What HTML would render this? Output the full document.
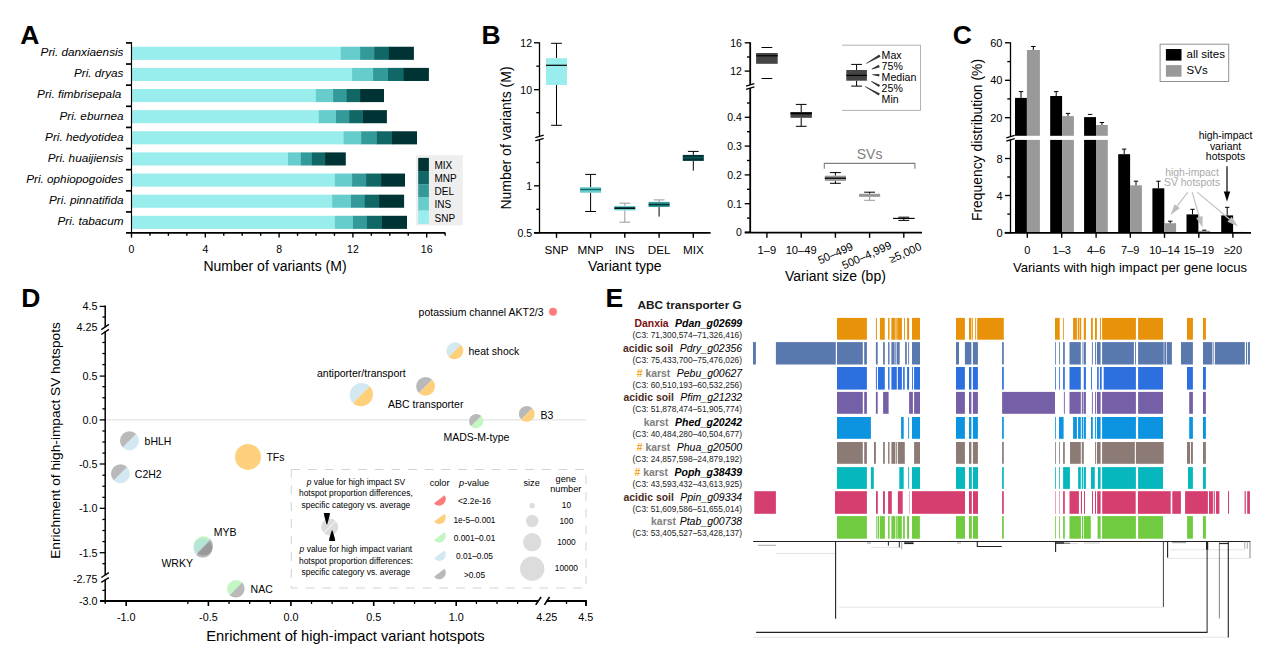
<!DOCTYPE html>
<html><head><meta charset="utf-8"><title>Figure</title>
<style>
html,body{margin:0;padding:0;background:#fff;}
svg{display:block;font-family:"Liberation Sans",sans-serif;}
</style></head>
<body>
<svg width="1268" height="672" viewBox="0 0 1268 672">
<rect x="0" y="0" width="1268" height="672" fill="#ffffff"/>
<text x="20.30" y="43.90" font-size="26.5" text-anchor="start" fill="#000" font-weight="bold" >A</text>
<rect x="132.10" y="46.75" width="209.10" height="13.10" fill="#99EDED" />
<rect x="340.70" y="46.75" width="19.90" height="13.10" fill="#66CCCC" />
<rect x="360.10" y="46.75" width="14.60" height="13.10" fill="#339999" />
<rect x="374.20" y="46.75" width="15.20" height="13.10" fill="#116666" />
<rect x="388.90" y="46.75" width="25.00" height="13.10" fill="#003333" />
<text x="123.50" y="56.23" font-size="11.75" text-anchor="end" fill="#000" font-style="italic" >Pri. danxiaensis</text>
<rect x="132.10" y="67.88" width="220.50" height="13.10" fill="#99EDED" />
<rect x="352.10" y="67.88" width="21.50" height="13.10" fill="#66CCCC" />
<rect x="373.10" y="67.88" width="15.40" height="13.10" fill="#339999" />
<rect x="388.00" y="67.88" width="16.20" height="13.10" fill="#116666" />
<rect x="403.70" y="67.88" width="25.20" height="13.10" fill="#003333" />
<text x="123.50" y="77.36" font-size="11.75" text-anchor="end" fill="#000" font-style="italic" >Pri. dryas</text>
<rect x="132.10" y="89.01" width="184.30" height="13.10" fill="#99EDED" />
<rect x="315.90" y="89.01" width="17.70" height="13.10" fill="#66CCCC" />
<rect x="333.10" y="89.01" width="14.10" height="13.10" fill="#339999" />
<rect x="346.70" y="89.01" width="13.90" height="13.10" fill="#116666" />
<rect x="360.10" y="89.01" width="23.90" height="13.10" fill="#003333" />
<text x="121.30" y="98.49" font-size="11.75" text-anchor="end" fill="#000" font-style="italic" >Pri. fimbrisepala</text>
<rect x="132.10" y="110.14" width="187.20" height="13.10" fill="#99EDED" />
<rect x="318.80" y="110.14" width="17.70" height="13.10" fill="#66CCCC" />
<rect x="336.00" y="110.14" width="13.70" height="13.10" fill="#339999" />
<rect x="349.20" y="110.14" width="14.30" height="13.10" fill="#116666" />
<rect x="363.00" y="110.14" width="23.90" height="13.10" fill="#003333" />
<text x="123.50" y="119.62" font-size="11.75" text-anchor="end" fill="#000" font-style="italic" >Pri. eburnea</text>
<rect x="132.10" y="131.27" width="212.00" height="13.10" fill="#99EDED" />
<rect x="343.60" y="131.27" width="18.10" height="13.10" fill="#66CCCC" />
<rect x="361.20" y="131.27" width="16.20" height="13.10" fill="#339999" />
<rect x="376.90" y="131.27" width="15.60" height="13.10" fill="#116666" />
<rect x="392.00" y="131.27" width="25.00" height="13.10" fill="#003333" />
<text x="123.50" y="140.75" font-size="11.75" text-anchor="end" fill="#000" font-style="italic" >Pri. hedyotidea</text>
<rect x="132.10" y="152.40" width="156.40" height="13.10" fill="#99EDED" />
<rect x="288.00" y="152.40" width="13.40" height="13.10" fill="#66CCCC" />
<rect x="300.90" y="152.40" width="11.50" height="13.10" fill="#339999" />
<rect x="311.90" y="152.40" width="13.70" height="13.10" fill="#116666" />
<rect x="325.10" y="152.40" width="20.70" height="13.10" fill="#003333" />
<text x="123.50" y="161.88" font-size="11.75" text-anchor="end" fill="#000" font-style="italic" >Pri. huaijiensis</text>
<rect x="132.10" y="173.53" width="203.30" height="13.10" fill="#99EDED" />
<rect x="334.90" y="173.53" width="17.70" height="13.10" fill="#66CCCC" />
<rect x="352.10" y="173.53" width="14.50" height="13.10" fill="#339999" />
<rect x="366.10" y="173.53" width="15.50" height="13.10" fill="#116666" />
<rect x="381.10" y="173.53" width="23.90" height="13.10" fill="#003333" />
<text x="123.50" y="183.01" font-size="11.75" text-anchor="end" fill="#000" font-style="italic" >Pri. ophiopogoides</text>
<rect x="132.10" y="194.66" width="200.60" height="13.10" fill="#99EDED" />
<rect x="332.20" y="194.66" width="19.30" height="13.10" fill="#66CCCC" />
<rect x="351.00" y="194.66" width="14.30" height="13.10" fill="#339999" />
<rect x="364.80" y="194.66" width="14.80" height="13.10" fill="#116666" />
<rect x="379.10" y="194.66" width="25.00" height="13.10" fill="#003333" />
<text x="123.50" y="204.14" font-size="11.75" text-anchor="end" fill="#000" font-style="italic" >Pri. pinnatifida</text>
<rect x="132.10" y="215.79" width="203.30" height="13.10" fill="#99EDED" />
<rect x="334.90" y="215.79" width="18.60" height="13.10" fill="#66CCCC" />
<rect x="353.00" y="215.79" width="14.50" height="13.10" fill="#339999" />
<rect x="367.00" y="215.79" width="15.50" height="13.10" fill="#116666" />
<rect x="382.00" y="215.79" width="25.00" height="13.10" fill="#003333" />
<text x="123.50" y="225.27" font-size="11.75" text-anchor="end" fill="#000" font-style="italic" >Pri. tabacum</text>
<line x1="131.50" y1="42.10" x2="131.50" y2="232.90" stroke="#000" stroke-width="1.15" />
<line x1="126.00" y1="232.80" x2="445.30" y2="232.80" stroke="#000" stroke-width="1.7" />
<line x1="126.00" y1="42.90" x2="131.50" y2="42.90" stroke="#000" stroke-width="1.7" />
<line x1="126.00" y1="64.03" x2="131.50" y2="64.03" stroke="#000" stroke-width="1.7" />
<line x1="126.00" y1="85.16" x2="131.50" y2="85.16" stroke="#000" stroke-width="1.7" />
<line x1="126.00" y1="106.29" x2="131.50" y2="106.29" stroke="#000" stroke-width="1.7" />
<line x1="126.00" y1="127.42" x2="131.50" y2="127.42" stroke="#000" stroke-width="1.7" />
<line x1="126.00" y1="148.55" x2="131.50" y2="148.55" stroke="#000" stroke-width="1.7" />
<line x1="126.00" y1="169.68" x2="131.50" y2="169.68" stroke="#000" stroke-width="1.7" />
<line x1="126.00" y1="190.81" x2="131.50" y2="190.81" stroke="#000" stroke-width="1.7" />
<line x1="126.00" y1="211.94" x2="131.50" y2="211.94" stroke="#000" stroke-width="1.7" />
<line x1="131.50" y1="232.80" x2="131.50" y2="237.60" stroke="#000" stroke-width="1.4" />
<text x="131.50" y="253.38" font-size="10.5" text-anchor="middle" fill="#000" >0</text>
<line x1="149.95" y1="232.80" x2="149.95" y2="235.80" stroke="#000" stroke-width="1.4" />
<line x1="168.40" y1="232.80" x2="168.40" y2="235.80" stroke="#000" stroke-width="1.4" />
<line x1="186.85" y1="232.80" x2="186.85" y2="235.80" stroke="#000" stroke-width="1.4" />
<line x1="205.30" y1="232.80" x2="205.30" y2="237.60" stroke="#000" stroke-width="1.4" />
<text x="205.30" y="253.38" font-size="10.5" text-anchor="middle" fill="#000" >4</text>
<line x1="223.75" y1="232.80" x2="223.75" y2="235.80" stroke="#000" stroke-width="1.4" />
<line x1="242.20" y1="232.80" x2="242.20" y2="235.80" stroke="#000" stroke-width="1.4" />
<line x1="260.65" y1="232.80" x2="260.65" y2="235.80" stroke="#000" stroke-width="1.4" />
<line x1="279.10" y1="232.80" x2="279.10" y2="237.60" stroke="#000" stroke-width="1.4" />
<text x="279.10" y="253.38" font-size="10.5" text-anchor="middle" fill="#000" >8</text>
<line x1="297.55" y1="232.80" x2="297.55" y2="235.80" stroke="#000" stroke-width="1.4" />
<line x1="316.00" y1="232.80" x2="316.00" y2="235.80" stroke="#000" stroke-width="1.4" />
<line x1="334.45" y1="232.80" x2="334.45" y2="235.80" stroke="#000" stroke-width="1.4" />
<line x1="352.90" y1="232.80" x2="352.90" y2="237.60" stroke="#000" stroke-width="1.4" />
<text x="352.90" y="253.38" font-size="10.5" text-anchor="middle" fill="#000" >12</text>
<line x1="371.35" y1="232.80" x2="371.35" y2="235.80" stroke="#000" stroke-width="1.4" />
<line x1="389.80" y1="232.80" x2="389.80" y2="235.80" stroke="#000" stroke-width="1.4" />
<line x1="408.25" y1="232.80" x2="408.25" y2="235.80" stroke="#000" stroke-width="1.4" />
<line x1="426.70" y1="232.80" x2="426.70" y2="237.60" stroke="#000" stroke-width="1.4" />
<text x="426.70" y="253.38" font-size="10.5" text-anchor="middle" fill="#000" >16</text>
<line x1="445.15" y1="232.80" x2="445.15" y2="235.80" stroke="#000" stroke-width="1.4" />
<text x="275.00" y="271.34" font-size="14" text-anchor="middle" fill="#000" >Number of variants (M)</text>
<rect x="415.90" y="155.20" width="46.90" height="70.10" fill="#EEEEEE" />
<rect x="418.20" y="157.90" width="10.70" height="13.27" fill="#003333" />
<text x="434.50" y="168.70" font-size="10" text-anchor="start" fill="#000" >MIX</text>
<rect x="418.20" y="171.07" width="10.70" height="13.27" fill="#116666" />
<text x="434.50" y="181.90" font-size="10" text-anchor="start" fill="#000" >MNP</text>
<rect x="418.20" y="184.24" width="10.70" height="13.27" fill="#339999" />
<text x="434.50" y="195.10" font-size="10" text-anchor="start" fill="#000" >DEL</text>
<rect x="418.20" y="197.41" width="10.70" height="13.27" fill="#66CCCC" />
<text x="434.50" y="208.30" font-size="10" text-anchor="start" fill="#000" >INS</text>
<rect x="418.20" y="210.58" width="10.70" height="13.27" fill="#99EDED" />
<text x="434.50" y="221.50" font-size="10" text-anchor="start" fill="#000" >SNP</text>
<text x="481.60" y="43.90" font-size="26.5" text-anchor="start" fill="#000" font-weight="bold" >B</text>
<line x1="539.50" y1="42.30" x2="539.50" y2="136.30" stroke="#000" stroke-width="1.3" />
<line x1="539.50" y1="139.30" x2="539.50" y2="233.30" stroke="#000" stroke-width="1.3" />
<line x1="535.30" y1="137.60" x2="543.70" y2="135.10" stroke="#000" stroke-width="1.3" />
<line x1="535.30" y1="140.90" x2="543.70" y2="138.40" stroke="#000" stroke-width="1.3" />
<line x1="533.90" y1="232.80" x2="710.60" y2="232.80" stroke="#000" stroke-width="1.7" />
<line x1="534.00" y1="42.80" x2="539.50" y2="42.80" stroke="#000" stroke-width="1.35" />
<text x="532.00" y="46.78" font-size="10.5" text-anchor="end" fill="#000" >12</text>
<line x1="534.00" y1="89.70" x2="539.50" y2="89.70" stroke="#000" stroke-width="1.35" />
<text x="532.00" y="93.68" font-size="10.5" text-anchor="end" fill="#000" >10</text>
<line x1="534.00" y1="185.80" x2="539.50" y2="185.80" stroke="#000" stroke-width="1.35" />
<text x="532.00" y="189.78" font-size="10.5" text-anchor="end" fill="#000" >1</text>
<line x1="534.00" y1="232.70" x2="539.50" y2="232.70" stroke="#000" stroke-width="1.35" />
<text x="532.00" y="236.68" font-size="10.5" text-anchor="end" fill="#000" >0.5</text>
<line x1="536.30" y1="66.20" x2="539.50" y2="66.20" stroke="#000" stroke-width="1.35" />
<line x1="536.30" y1="112.70" x2="539.50" y2="112.70" stroke="#000" stroke-width="1.35" />
<line x1="536.30" y1="162.50" x2="539.50" y2="162.50" stroke="#000" stroke-width="1.35" />
<line x1="536.30" y1="209.30" x2="539.50" y2="209.30" stroke="#000" stroke-width="1.35" />
<line x1="556.50" y1="232.80" x2="556.50" y2="237.80" stroke="#000" stroke-width="1.4" />
<text x="556.50" y="253.81" font-size="11.7" text-anchor="middle" fill="#000" >SNP</text>
<line x1="590.60" y1="232.80" x2="590.60" y2="237.80" stroke="#000" stroke-width="1.4" />
<text x="590.60" y="253.81" font-size="11.7" text-anchor="middle" fill="#000" >MNP</text>
<line x1="624.80" y1="232.80" x2="624.80" y2="237.80" stroke="#000" stroke-width="1.4" />
<text x="624.80" y="253.81" font-size="11.7" text-anchor="middle" fill="#000" >INS</text>
<line x1="659.10" y1="232.80" x2="659.10" y2="237.80" stroke="#000" stroke-width="1.4" />
<text x="659.10" y="253.81" font-size="11.7" text-anchor="middle" fill="#000" >DEL</text>
<line x1="693.30" y1="232.80" x2="693.30" y2="237.80" stroke="#000" stroke-width="1.4" />
<text x="693.30" y="253.81" font-size="11.7" text-anchor="middle" fill="#000" >MIX</text>
<text x="624.80" y="271.34" font-size="14" text-anchor="middle" fill="#000" >Variant type</text>
<text x="511.30" y="138.00" font-size="14" text-anchor="middle" fill="#000" transform="rotate(-90 511.30 138.00)" >Number of variants (M)</text>
<line x1="556.50" y1="43.30" x2="556.50" y2="58.20" stroke="#000" stroke-width="1" />
<line x1="556.50" y1="85.00" x2="556.50" y2="125.30" stroke="#000" stroke-width="1" />
<line x1="551.10" y1="43.30" x2="561.90" y2="43.30" stroke="#000" stroke-width="1" />
<line x1="551.10" y1="125.30" x2="561.90" y2="125.30" stroke="#000" stroke-width="1" />
<rect x="546.00" y="58.20" width="21.00" height="26.80" fill="#99EDED" />
<line x1="546.00" y1="65.30" x2="567.00" y2="65.30" stroke="#000" stroke-width="1.2" />
<line x1="590.60" y1="174.40" x2="590.60" y2="187.20" stroke="#000" stroke-width="1" />
<line x1="590.60" y1="192.70" x2="590.60" y2="211.50" stroke="#000" stroke-width="1" />
<line x1="585.20" y1="174.40" x2="596.00" y2="174.40" stroke="#000" stroke-width="1" />
<line x1="585.20" y1="211.50" x2="596.00" y2="211.50" stroke="#000" stroke-width="1" />
<rect x="580.10" y="187.20" width="21.00" height="5.50" fill="#66CCCC" />
<line x1="580.10" y1="189.50" x2="601.10" y2="189.50" stroke="#116666" stroke-width="1.4" />
<line x1="624.80" y1="203.20" x2="624.80" y2="205.90" stroke="#999" stroke-width="1" />
<line x1="624.80" y1="210.40" x2="624.80" y2="222.20" stroke="#999" stroke-width="1" />
<line x1="619.40" y1="203.20" x2="630.20" y2="203.20" stroke="#999" stroke-width="1" />
<line x1="619.40" y1="222.20" x2="630.20" y2="222.20" stroke="#999" stroke-width="1" />
<rect x="614.30" y="205.90" width="21.00" height="4.50" fill="#66CCCC" />
<line x1="614.30" y1="208.10" x2="635.30" y2="208.10" stroke="#000" stroke-width="1.6" />
<line x1="659.10" y1="199.90" x2="659.10" y2="201.90" stroke="#999" stroke-width="1" />
<line x1="659.10" y1="207.00" x2="659.10" y2="216.60" stroke="#000" stroke-width="1" />
<line x1="653.70" y1="199.90" x2="664.50" y2="199.90" stroke="#999" stroke-width="1" />
<rect x="648.60" y="201.90" width="21.00" height="5.10" fill="#339999" />
<line x1="648.60" y1="204.60" x2="669.60" y2="204.60" stroke="#003333" stroke-width="1.6" />
<line x1="693.30" y1="151.40" x2="693.30" y2="154.90" stroke="#000" stroke-width="1" />
<line x1="693.30" y1="160.90" x2="693.30" y2="170.60" stroke="#000" stroke-width="1" />
<line x1="687.90" y1="151.40" x2="698.70" y2="151.40" stroke="#000" stroke-width="1" />
<rect x="682.80" y="154.90" width="21.00" height="6.00" fill="#003333" />
<line x1="682.80" y1="157.80" x2="703.80" y2="157.80" stroke="#116666" stroke-width="1.0" />
<line x1="750.20" y1="42.30" x2="750.20" y2="85.00" stroke="#000" stroke-width="1.8" />
<line x1="750.20" y1="88.00" x2="750.20" y2="232.90" stroke="#000" stroke-width="1.8" />
<line x1="746.00" y1="86.10" x2="754.40" y2="83.60" stroke="#000" stroke-width="1.3" />
<line x1="746.00" y1="89.40" x2="754.40" y2="86.90" stroke="#000" stroke-width="1.3" />
<line x1="744.80" y1="232.70" x2="922.00" y2="232.70" stroke="#000" stroke-width="1.7" />
<line x1="744.70" y1="42.80" x2="750.20" y2="42.80" stroke="#000" stroke-width="1.35" />
<text x="741.90" y="46.78" font-size="10.5" text-anchor="end" fill="#000" >16</text>
<line x1="744.70" y1="71.10" x2="750.20" y2="71.10" stroke="#000" stroke-width="1.35" />
<text x="741.90" y="75.08" font-size="10.5" text-anchor="end" fill="#000" >12</text>
<line x1="744.70" y1="117.30" x2="750.20" y2="117.30" stroke="#000" stroke-width="1.35" />
<text x="741.90" y="121.28" font-size="10.5" text-anchor="end" fill="#000" >0.4</text>
<line x1="744.70" y1="146.10" x2="750.20" y2="146.10" stroke="#000" stroke-width="1.35" />
<text x="741.90" y="150.08" font-size="10.5" text-anchor="end" fill="#000" >0.3</text>
<line x1="744.70" y1="174.90" x2="750.20" y2="174.90" stroke="#000" stroke-width="1.35" />
<text x="741.90" y="178.88" font-size="10.5" text-anchor="end" fill="#000" >0.2</text>
<line x1="744.70" y1="203.70" x2="750.20" y2="203.70" stroke="#000" stroke-width="1.35" />
<text x="741.90" y="207.68" font-size="10.5" text-anchor="end" fill="#000" >0.1</text>
<line x1="744.70" y1="232.20" x2="750.20" y2="232.20" stroke="#000" stroke-width="1.35" />
<text x="741.90" y="236.18" font-size="10.5" text-anchor="end" fill="#000" >0</text>
<line x1="747.00" y1="57.00" x2="750.20" y2="57.00" stroke="#000" stroke-width="1.35" />
<line x1="747.00" y1="103.00" x2="750.20" y2="103.00" stroke="#000" stroke-width="1.35" />
<line x1="747.00" y1="131.70" x2="750.20" y2="131.70" stroke="#000" stroke-width="1.35" />
<line x1="747.00" y1="160.50" x2="750.20" y2="160.50" stroke="#000" stroke-width="1.35" />
<line x1="747.00" y1="189.30" x2="750.20" y2="189.30" stroke="#000" stroke-width="1.35" />
<line x1="747.00" y1="218.10" x2="750.20" y2="218.10" stroke="#000" stroke-width="1.35" />
<line x1="766.90" y1="232.70" x2="766.90" y2="237.80" stroke="#000" stroke-width="1.4" />
<line x1="801.20" y1="232.70" x2="801.20" y2="237.80" stroke="#000" stroke-width="1.4" />
<line x1="835.40" y1="232.70" x2="835.40" y2="237.80" stroke="#000" stroke-width="1.4" />
<line x1="869.60" y1="232.70" x2="869.60" y2="237.80" stroke="#000" stroke-width="1.4" />
<line x1="903.80" y1="232.70" x2="903.80" y2="237.80" stroke="#000" stroke-width="1.4" />
<text x="766.90" y="253.63" font-size="11.2" text-anchor="middle" fill="#000" >1–9</text>
<text x="801.20" y="253.63" font-size="11.2" text-anchor="middle" fill="#000" >10–49</text>
<text font-size="11.2" text-anchor="middle" transform="translate(835.4 253.3) rotate(-24)" y="3.8">50–499</text>
<text font-size="11.2" text-anchor="middle" transform="translate(866.6 255.3) rotate(-24)" y="3.8">500–4,999</text>
<text font-size="11.2" text-anchor="middle" transform="translate(905.3 252.8) rotate(-24)" y="3.8">≥5,000</text>
<text x="835.40" y="281.24" font-size="14" text-anchor="middle" fill="#000" >Variant size (bp)</text>
<line x1="761.50" y1="47.50" x2="772.30" y2="47.50" stroke="#000" stroke-width="1" />
<line x1="761.50" y1="78.50" x2="772.30" y2="78.50" stroke="#000" stroke-width="1" />
<rect x="756.10" y="53.00" width="21.60" height="10.80" fill="#444444" />
<line x1="756.10" y1="55.80" x2="777.70" y2="55.80" stroke="#000" stroke-width="1.2" />
<line x1="801.20" y1="104.40" x2="801.20" y2="112.00" stroke="#000" stroke-width="1" />
<line x1="801.20" y1="117.80" x2="801.20" y2="126.30" stroke="#000" stroke-width="1" />
<line x1="795.80" y1="104.40" x2="806.60" y2="104.40" stroke="#000" stroke-width="1" />
<line x1="795.80" y1="126.30" x2="806.60" y2="126.30" stroke="#000" stroke-width="1" />
<rect x="790.50" y="112.00" width="21.40" height="5.80" fill="#444444" />
<line x1="790.50" y1="113.40" x2="811.90" y2="113.40" stroke="#000" stroke-width="1.8" />
<line x1="835.40" y1="172.60" x2="835.40" y2="175.70" stroke="#000" stroke-width="1" />
<line x1="835.40" y1="180.90" x2="835.40" y2="183.30" stroke="#000" stroke-width="1" />
<line x1="830.00" y1="172.60" x2="840.80" y2="172.60" stroke="#000" stroke-width="1" />
<line x1="830.00" y1="183.30" x2="840.80" y2="183.30" stroke="#000" stroke-width="1" />
<rect x="824.80" y="175.70" width="21.20" height="5.20" fill="#999" />
<line x1="824.80" y1="178.20" x2="846.00" y2="178.20" stroke="#000" stroke-width="1.3" />
<line x1="869.60" y1="192.20" x2="869.60" y2="193.80" stroke="#000" stroke-width="1" />
<line x1="869.60" y1="196.90" x2="869.60" y2="200.30" stroke="#999" stroke-width="1" />
<line x1="864.20" y1="192.20" x2="875.00" y2="192.20" stroke="#000" stroke-width="1" />
<line x1="864.20" y1="200.30" x2="875.00" y2="200.30" stroke="#999" stroke-width="1" />
<rect x="859.10" y="193.80" width="21.00" height="3.10" fill="#999" />
<line x1="859.10" y1="195.30" x2="880.10" y2="195.30" stroke="#999" stroke-width="1.2" />
<line x1="903.80" y1="217.20" x2="903.80" y2="217.90" stroke="#000" stroke-width="1" />
<line x1="903.80" y1="219.00" x2="903.80" y2="220.40" stroke="#000" stroke-width="1" />
<line x1="898.40" y1="217.20" x2="909.20" y2="217.20" stroke="#000" stroke-width="1" />
<line x1="898.40" y1="220.40" x2="909.20" y2="220.40" stroke="#000" stroke-width="1" />
<rect x="893.10" y="217.90" width="21.40" height="1.10" fill="#444" />
<line x1="893.10" y1="218.40" x2="914.50" y2="218.40" stroke="#000" stroke-width="1.0" />
<polyline points="824.3,168.8 824.3,163.4 914.9,163.4 914.9,168.8" fill="none" stroke="#808080" stroke-width="1.1"/>
<text x="869.60" y="159.24" font-size="14" text-anchor="middle" fill="#808080" >SVs</text>
<polyline points="842.1,45.2 920.5,45.2 920.5,110.4 842.1,110.4" fill="none" stroke="#a8a8a8" stroke-width="0.9"/>
<line x1="856.60" y1="64.40" x2="856.60" y2="70.00" stroke="#000" stroke-width="1" />
<line x1="856.60" y1="80.70" x2="856.60" y2="86.10" stroke="#000" stroke-width="1" />
<line x1="851.20" y1="64.40" x2="862.00" y2="64.40" stroke="#000" stroke-width="1" />
<line x1="851.20" y1="86.10" x2="862.00" y2="86.10" stroke="#000" stroke-width="1" />
<rect x="846.30" y="70.00" width="20.60" height="10.70" fill="#444444" />
<line x1="846.30" y1="75.40" x2="866.90" y2="75.40" stroke="#000" stroke-width="1.3" />
<text x="881.60" y="59.12" font-size="10.6" text-anchor="start" fill="#000" >Max</text>
<text x="881.60" y="70.05" font-size="10.6" text-anchor="start" fill="#000" >75%</text>
<text x="881.60" y="80.98" font-size="10.6" text-anchor="start" fill="#000" >Median</text>
<text x="881.60" y="91.91" font-size="10.6" text-anchor="start" fill="#000" >25%</text>
<text x="881.60" y="102.84" font-size="10.6" text-anchor="start" fill="#000" >Min</text>
<polygon points="879.28,54.61 880.52,56.79 866.37,63.80 866.03,63.20" fill="#333"/>
<polygon points="878.82,64.84 879.78,67.16 871.93,69.42 871.67,68.78" fill="#333"/>
<polygon points="879.39,73.95 879.21,76.45 872.47,75.05 872.53,74.35" fill="#333"/>
<polygon points="880.12,84.91 878.88,87.09 871.23,81.70 871.57,81.10" fill="#333"/>
<polygon points="879.91,93.41 878.69,95.59 864.93,86.80 865.27,86.20" fill="#333"/>
<text x="952.80" y="43.90" font-size="26.5" text-anchor="start" fill="#000" font-weight="bold" >C</text>
<rect x="1015.00" y="97.90" width="11.90" height="134.70" fill="#000" />
<rect x="1026.90" y="50.00" width="13.00" height="182.60" fill="#999" />
<line x1="1021.00" y1="91.60" x2="1021.00" y2="97.90" stroke="#000" stroke-width="1" />
<line x1="1018.80" y1="91.60" x2="1023.20" y2="91.60" stroke="#000" stroke-width="1" />
<line x1="1033.30" y1="46.50" x2="1033.30" y2="50.00" stroke="#000" stroke-width="1" />
<line x1="1031.10" y1="46.50" x2="1035.50" y2="46.50" stroke="#000" stroke-width="1" />
<rect x="1050.20" y="96.00" width="11.90" height="136.60" fill="#000" />
<rect x="1062.10" y="116.10" width="11.80" height="116.50" fill="#999" />
<line x1="1056.20" y1="91.60" x2="1056.20" y2="96.00" stroke="#000" stroke-width="1" />
<line x1="1054.00" y1="91.60" x2="1058.40" y2="91.60" stroke="#000" stroke-width="1" />
<line x1="1068.00" y1="113.40" x2="1068.00" y2="116.10" stroke="#000" stroke-width="1" />
<line x1="1065.80" y1="113.40" x2="1070.20" y2="113.40" stroke="#000" stroke-width="1" />
<rect x="1084.10" y="117.10" width="11.90" height="115.50" fill="#000" />
<rect x="1096.00" y="125.00" width="11.80" height="107.60" fill="#999" />
<line x1="1087.90" y1="114.40" x2="1092.30" y2="114.40" stroke="#000" stroke-width="1" />
<line x1="1101.90" y1="122.50" x2="1101.90" y2="125.00" stroke="#000" stroke-width="1" />
<line x1="1099.70" y1="122.50" x2="1104.10" y2="122.50" stroke="#000" stroke-width="1" />
<rect x="1118.20" y="154.20" width="11.90" height="78.40" fill="#000" />
<rect x="1130.10" y="185.30" width="11.80" height="47.30" fill="#999" />
<line x1="1124.20" y1="149.10" x2="1124.20" y2="154.20" stroke="#000" stroke-width="1" />
<line x1="1122.00" y1="149.10" x2="1126.40" y2="149.10" stroke="#000" stroke-width="1" />
<line x1="1136.00" y1="181.20" x2="1136.00" y2="185.30" stroke="#000" stroke-width="1" />
<line x1="1133.80" y1="181.20" x2="1138.20" y2="181.20" stroke="#000" stroke-width="1" />
<rect x="1152.40" y="188.30" width="11.90" height="44.30" fill="#000" />
<rect x="1164.30" y="223.20" width="11.80" height="9.40" fill="#999" />
<line x1="1158.40" y1="181.20" x2="1158.40" y2="188.30" stroke="#000" stroke-width="1" />
<line x1="1156.20" y1="181.20" x2="1160.60" y2="181.20" stroke="#000" stroke-width="1" />
<line x1="1170.20" y1="221.20" x2="1170.20" y2="223.20" stroke="#000" stroke-width="1" />
<line x1="1168.00" y1="221.20" x2="1172.40" y2="221.20" stroke="#000" stroke-width="1" />
<rect x="1186.50" y="214.40" width="11.90" height="18.20" fill="#000" />
<rect x="1198.40" y="230.80" width="11.80" height="1.80" fill="#999" />
<line x1="1192.50" y1="209.30" x2="1192.50" y2="214.40" stroke="#000" stroke-width="1" />
<line x1="1190.30" y1="209.30" x2="1194.70" y2="209.30" stroke="#000" stroke-width="1" />
<line x1="1204.30" y1="230.20" x2="1204.30" y2="230.80" stroke="#000" stroke-width="1" />
<line x1="1202.10" y1="230.20" x2="1206.50" y2="230.20" stroke="#000" stroke-width="1" />
<rect x="1221.20" y="215.40" width="11.90" height="17.20" fill="#000" />
<rect x="1233.10" y="231.90" width="11.80" height="0.70" fill="#999" />
<line x1="1227.20" y1="207.30" x2="1227.20" y2="215.40" stroke="#000" stroke-width="1" />
<line x1="1225.00" y1="207.30" x2="1229.40" y2="207.30" stroke="#000" stroke-width="1" />
<rect x="1011.50" y="135.80" width="240.50" height="4.10" fill="#fff" />
<line x1="1010.50" y1="42.30" x2="1010.50" y2="136.60" stroke="#000" stroke-width="1.3" />
<line x1="1010.50" y1="139.60" x2="1010.50" y2="233.30" stroke="#000" stroke-width="1.3" />
<line x1="1006.30" y1="137.80" x2="1014.70" y2="135.30" stroke="#000" stroke-width="1.3" />
<line x1="1006.30" y1="141.10" x2="1014.70" y2="138.60" stroke="#000" stroke-width="1.3" />
<line x1="1004.70" y1="232.80" x2="1251.00" y2="232.80" stroke="#000" stroke-width="1.7" />
<line x1="1005.00" y1="42.80" x2="1010.50" y2="42.80" stroke="#000" stroke-width="1.35" />
<text x="1002.50" y="46.96" font-size="11" text-anchor="end" fill="#000" >60</text>
<line x1="1005.00" y1="80.30" x2="1010.50" y2="80.30" stroke="#000" stroke-width="1.35" />
<text x="1002.50" y="84.46" font-size="11" text-anchor="end" fill="#000" >40</text>
<line x1="1005.00" y1="117.70" x2="1010.50" y2="117.70" stroke="#000" stroke-width="1.35" />
<text x="1002.50" y="121.86" font-size="11" text-anchor="end" fill="#000" >20</text>
<line x1="1005.00" y1="158.50" x2="1010.50" y2="158.50" stroke="#000" stroke-width="1.35" />
<text x="1002.50" y="162.66" font-size="11" text-anchor="end" fill="#000" >8</text>
<line x1="1005.00" y1="195.50" x2="1010.50" y2="195.50" stroke="#000" stroke-width="1.35" />
<text x="1002.50" y="199.66" font-size="11" text-anchor="end" fill="#000" >4</text>
<line x1="1005.00" y1="232.60" x2="1010.50" y2="232.60" stroke="#000" stroke-width="1.35" />
<text x="1002.50" y="236.76" font-size="11" text-anchor="end" fill="#000" >0</text>
<line x1="1007.30" y1="61.60" x2="1010.50" y2="61.60" stroke="#000" stroke-width="1.35" />
<line x1="1007.30" y1="98.90" x2="1010.50" y2="98.90" stroke="#000" stroke-width="1.35" />
<line x1="1007.30" y1="177.00" x2="1010.50" y2="177.00" stroke="#000" stroke-width="1.35" />
<line x1="1007.30" y1="214.10" x2="1010.50" y2="214.10" stroke="#000" stroke-width="1.35" />
<line x1="1027.30" y1="232.80" x2="1027.30" y2="237.80" stroke="#000" stroke-width="1.4" />
<text x="1027.30" y="253.66" font-size="11" text-anchor="middle" fill="#000" >0</text>
<line x1="1061.70" y1="232.80" x2="1061.70" y2="237.80" stroke="#000" stroke-width="1.4" />
<text x="1061.70" y="253.66" font-size="11" text-anchor="middle" fill="#000" >1–3</text>
<line x1="1096.10" y1="232.80" x2="1096.10" y2="237.80" stroke="#000" stroke-width="1.4" />
<text x="1096.10" y="253.66" font-size="11" text-anchor="middle" fill="#000" >4–6</text>
<line x1="1130.30" y1="232.80" x2="1130.30" y2="237.80" stroke="#000" stroke-width="1.4" />
<text x="1130.30" y="253.66" font-size="11" text-anchor="middle" fill="#000" >7–9</text>
<line x1="1164.50" y1="232.80" x2="1164.50" y2="237.80" stroke="#000" stroke-width="1.4" />
<text x="1164.50" y="253.66" font-size="11" text-anchor="middle" fill="#000" >10–14</text>
<line x1="1198.80" y1="232.80" x2="1198.80" y2="237.80" stroke="#000" stroke-width="1.4" />
<text x="1198.80" y="253.66" font-size="11" text-anchor="middle" fill="#000" >15–19</text>
<line x1="1232.90" y1="232.80" x2="1232.90" y2="237.80" stroke="#000" stroke-width="1.4" />
<text x="1232.90" y="253.66" font-size="11" text-anchor="middle" fill="#000" >≥20</text>
<text x="1130.00" y="271.52" font-size="13.1" text-anchor="middle" fill="#000" >Variants with high impact per gene locus</text>
<text x="982.20" y="140.00" font-size="13.9" text-anchor="middle" fill="#000" transform="rotate(-90 982.20 140.00)" >Frequency distribution (%)</text>
<rect x="1160.1" y="44.2" width="68.6" height="37.3" fill="#fff" stroke="#909090" stroke-width="1"/>
<rect x="1165.90" y="49.00" width="15.60" height="11.60" fill="#000" />
<rect x="1165.90" y="65.10" width="15.60" height="11.60" fill="#999" />
<text x="1186.60" y="58.14" font-size="11.5" text-anchor="start" fill="#000" >all sites</text>
<text x="1186.60" y="74.04" font-size="11.5" text-anchor="start" fill="#000" >SVs</text>
<text x="1225.50" y="139.44" font-size="10.4" text-anchor="middle" fill="#000" >high-impact</text>
<text x="1225.50" y="149.74" font-size="10.4" text-anchor="middle" fill="#000" >variant</text>
<text x="1225.50" y="160.04" font-size="10.4" text-anchor="middle" fill="#000" >hotspots</text>
<line x1="1227.00" y1="166.30" x2="1227.00" y2="193.00" stroke="#000" stroke-width="1.2" />
<polygon points="1223.8,191.5 1230.2,191.5 1227,201.5" fill="#000"/>
<text x="1192.10" y="176.44" font-size="10.4" text-anchor="middle" fill="#aaa" >high-impact</text>
<text x="1192.10" y="186.34" font-size="10.4" text-anchor="middle" fill="#aaa" >SV hotspots</text>
<line x1="1187.80" y1="192.10" x2="1177.22" y2="206.12" stroke="#c2c2c2" stroke-width="1.2" />
<polygon points="1174.59,204.13 1179.86,208.11 1170.60,214.90" fill="#bcbcbc"/>
<line x1="1192.10" y1="192.10" x2="1199.40" y2="216.95" stroke="#c2c2c2" stroke-width="1.2" />
<polygon points="1196.23,217.88 1202.57,216.02 1202.50,227.50" fill="#bcbcbc"/>
<line x1="1197.20" y1="192.10" x2="1229.48" y2="219.22" stroke="#c2c2c2" stroke-width="1.2" />
<polygon points="1227.36,221.75 1231.60,216.70 1237.90,226.30" fill="#bcbcbc"/>
<text x="21.20" y="306.90" font-size="26.5" text-anchor="start" fill="#000" font-weight="bold" >D</text>
<line x1="104.80" y1="419.90" x2="586.30" y2="419.90" stroke="#dcdcdc" stroke-width="1" />
<g><path d="M122.78,447.42 A9.50,9.50 0 0 1 136.22,433.98 Z" fill="#B9B9B9"/><path d="M122.78,447.42 A9.50,9.50 0 0 0 136.22,433.98 Z" fill="#D2E9F1"/></g>
<g><path d="M113.78,480.42 A9.50,9.50 0 0 1 127.22,466.98 Z" fill="#B9B9B9"/><path d="M113.78,480.42 A9.50,9.50 0 0 0 127.22,466.98 Z" fill="#D2E9F1"/></g>
<circle cx="248.00" cy="456.90" r="13.00" fill="#FFD07C"/>
<g opacity="0.55"><path d="M196.61,552.69 A9.60,9.60 0 0 1 210.19,539.11 Z" fill="#90EE90"/><path d="M196.61,552.69 A9.60,9.60 0 0 0 210.19,539.11 Z" fill="#808080"/></g>
<g opacity="0.55"><path d="M196.01,554.89 A9.60,9.60 0 0 1 209.59,541.31 Z" fill="#ADD8E6"/><path d="M196.01,554.89 A9.60,9.60 0 0 0 209.59,541.31 Z" fill="#808080"/></g>
<g><path d="M229.54,595.16 A9.00,9.00 0 0 1 242.26,582.44 Z" fill="#C2F6C2"/><path d="M229.54,595.16 A9.00,9.00 0 0 0 242.26,582.44 Z" fill="#B9B9B9"/></g>
<g><path d="M352.89,403.01 A11.90,11.90 0 0 1 369.71,386.19 Z" fill="#D2E9F1"/><path d="M352.89,403.01 A11.90,11.90 0 0 0 369.71,386.19 Z" fill="#FFD07C"/></g>
<g><path d="M418.95,392.95 A9.40,9.40 0 0 1 432.25,379.65 Z" fill="#B9B9B9"/><path d="M418.95,392.95 A9.40,9.40 0 0 0 432.25,379.65 Z" fill="#FFD07C"/></g>
<g><path d="M448.72,356.88 A8.60,8.60 0 0 1 460.88,344.72 Z" fill="#D2E9F1"/><path d="M448.72,356.88 A8.60,8.60 0 0 0 460.88,344.72 Z" fill="#FFD07C"/></g>
<g><path d="M521.21,419.49 A7.90,7.90 0 0 1 532.39,408.31 Z" fill="#B9B9B9"/><path d="M521.21,419.49 A7.90,7.90 0 0 0 532.39,408.31 Z" fill="#FFD07C"/></g>
<g><path d="M471.04,426.26 A7.30,7.30 0 0 1 481.36,415.94 Z" fill="#B9B9B9"/><path d="M471.04,426.26 A7.30,7.30 0 0 0 481.36,415.94 Z" fill="#C2F6C2"/></g>
<circle cx="553" cy="311.8" r="4" fill="#FF7C7C"/>
<text x="144.60" y="445.38" font-size="10.5" text-anchor="start" fill="#000" >bHLH</text>
<text x="134.80" y="478.28" font-size="10.5" text-anchor="start" fill="#000" >C2H2</text>
<text x="266.40" y="461.08" font-size="10.5" text-anchor="start" fill="#000" >TFs</text>
<text x="213.80" y="535.78" font-size="10.5" text-anchor="start" fill="#000" >MYB</text>
<text x="161.40" y="567.48" font-size="10.5" text-anchor="start" fill="#000" >WRKY</text>
<text x="250.60" y="593.08" font-size="10.5" text-anchor="start" fill="#000" >NAC</text>
<text x="317.00" y="377.28" font-size="10.5" text-anchor="start" fill="#000" >antiporter/transport</text>
<text x="388.10" y="407.58" font-size="10.5" text-anchor="start" fill="#000" >ABC transporter</text>
<text x="468.50" y="355.48" font-size="10.5" text-anchor="start" fill="#000" >heat shock</text>
<text x="540.50" y="419.18" font-size="10.5" text-anchor="start" fill="#000" >B3</text>
<text x="443.50" y="440.58" font-size="10.5" text-anchor="start" fill="#000" >MADS-M-type</text>
<text x="543.50" y="315.88" font-size="10.5" text-anchor="end" fill="#000" >potassium channel AKT2/3</text>
<line x1="105.20" y1="305.60" x2="105.20" y2="327.20" stroke="#000" stroke-width="1.5" />
<line x1="105.20" y1="331.30" x2="105.20" y2="575.20" stroke="#000" stroke-width="1.5" />
<line x1="105.20" y1="579.60" x2="105.20" y2="603.80" stroke="#000" stroke-width="1.5" />
<line x1="101.30" y1="329.60" x2="108.90" y2="324.40" stroke="#000" stroke-width="1.4" />
<line x1="101.30" y1="334.50" x2="108.90" y2="329.30" stroke="#000" stroke-width="1.4" />
<line x1="101.30" y1="577.50" x2="108.90" y2="572.70" stroke="#000" stroke-width="1.4" />
<line x1="101.30" y1="582.30" x2="108.90" y2="577.70" stroke="#000" stroke-width="1.4" />
<line x1="99.70" y1="306.40" x2="105.20" y2="306.40" stroke="#000" stroke-width="1.3" />
<text x="97.50" y="310.39" font-size="10.8" text-anchor="end" fill="#000" >4.5</text>
<text x="97.50" y="330.89" font-size="10.8" text-anchor="end" fill="#000" >4.25</text>
<line x1="99.70" y1="376.10" x2="105.20" y2="376.10" stroke="#000" stroke-width="1.3" />
<text x="97.50" y="380.09" font-size="10.8" text-anchor="end" fill="#000" >0.5</text>
<line x1="99.70" y1="419.90" x2="105.20" y2="419.90" stroke="#000" stroke-width="1.3" />
<text x="97.50" y="423.89" font-size="10.8" text-anchor="end" fill="#000" >0.0</text>
<line x1="99.70" y1="464.00" x2="105.20" y2="464.00" stroke="#000" stroke-width="1.3" />
<text x="97.50" y="467.99" font-size="10.8" text-anchor="end" fill="#000" >-0.5</text>
<line x1="99.70" y1="508.30" x2="105.20" y2="508.30" stroke="#000" stroke-width="1.3" />
<text x="97.50" y="512.29" font-size="10.8" text-anchor="end" fill="#000" >-1.0</text>
<line x1="99.70" y1="552.70" x2="105.20" y2="552.70" stroke="#000" stroke-width="1.3" />
<text x="97.50" y="556.69" font-size="10.8" text-anchor="end" fill="#000" >-1.5</text>
<text x="97.50" y="583.29" font-size="10.8" text-anchor="end" fill="#000" >-2.75</text>
<text x="97.50" y="604.89" font-size="10.8" text-anchor="end" fill="#000" >-3.0</text>
<line x1="102.40" y1="317.00" x2="105.20" y2="317.00" stroke="#000" stroke-width="1.3" />
<line x1="102.40" y1="590.40" x2="105.20" y2="590.40" stroke="#000" stroke-width="1.3" />
<line x1="102.40" y1="342.46" x2="105.20" y2="342.46" stroke="#000" stroke-width="1.3" />
<line x1="102.40" y1="353.52" x2="105.20" y2="353.52" stroke="#000" stroke-width="1.3" />
<line x1="102.40" y1="364.59" x2="105.20" y2="364.59" stroke="#000" stroke-width="1.3" />
<line x1="102.40" y1="386.71" x2="105.20" y2="386.71" stroke="#000" stroke-width="1.3" />
<line x1="102.40" y1="397.77" x2="105.20" y2="397.77" stroke="#000" stroke-width="1.3" />
<line x1="102.40" y1="408.84" x2="105.20" y2="408.84" stroke="#000" stroke-width="1.3" />
<line x1="102.40" y1="430.96" x2="105.20" y2="430.96" stroke="#000" stroke-width="1.3" />
<line x1="102.40" y1="442.02" x2="105.20" y2="442.02" stroke="#000" stroke-width="1.3" />
<line x1="102.40" y1="453.09" x2="105.20" y2="453.09" stroke="#000" stroke-width="1.3" />
<line x1="102.40" y1="475.21" x2="105.20" y2="475.21" stroke="#000" stroke-width="1.3" />
<line x1="102.40" y1="486.27" x2="105.20" y2="486.27" stroke="#000" stroke-width="1.3" />
<line x1="102.40" y1="497.34" x2="105.20" y2="497.34" stroke="#000" stroke-width="1.3" />
<line x1="102.40" y1="519.46" x2="105.20" y2="519.46" stroke="#000" stroke-width="1.3" />
<line x1="102.40" y1="530.52" x2="105.20" y2="530.52" stroke="#000" stroke-width="1.3" />
<line x1="102.40" y1="541.59" x2="105.20" y2="541.59" stroke="#000" stroke-width="1.3" />
<line x1="102.40" y1="563.71" x2="105.20" y2="563.71" stroke="#000" stroke-width="1.3" />
<line x1="100.00" y1="601.00" x2="537.90" y2="601.00" stroke="#000" stroke-width="1.9" />
<line x1="546.80" y1="601.00" x2="586.90" y2="601.00" stroke="#000" stroke-width="1.9" />
<line x1="535.70" y1="604.90" x2="541.10" y2="597.00" stroke="#000" stroke-width="1.6" />
<line x1="544.40" y1="604.90" x2="549.50" y2="597.00" stroke="#000" stroke-width="1.6" />
<line x1="126.20" y1="601.00" x2="126.20" y2="606.00" stroke="#000" stroke-width="1.6" />
<text x="126.20" y="621.29" font-size="10.8" text-anchor="middle" fill="#000" >-1.0</text>
<line x1="208.40" y1="601.00" x2="208.40" y2="606.00" stroke="#000" stroke-width="1.6" />
<text x="208.40" y="621.29" font-size="10.8" text-anchor="middle" fill="#000" >-0.5</text>
<line x1="290.90" y1="601.00" x2="290.90" y2="606.00" stroke="#000" stroke-width="1.6" />
<text x="290.90" y="621.29" font-size="10.8" text-anchor="middle" fill="#000" >0.0</text>
<line x1="373.70" y1="601.00" x2="373.70" y2="606.00" stroke="#000" stroke-width="1.6" />
<text x="373.70" y="621.29" font-size="10.8" text-anchor="middle" fill="#000" >0.5</text>
<line x1="456.20" y1="601.00" x2="456.20" y2="606.00" stroke="#000" stroke-width="1.6" />
<text x="456.20" y="621.29" font-size="10.8" text-anchor="middle" fill="#000" >1.0</text>
<text x="546.80" y="621.29" font-size="10.8" text-anchor="middle" fill="#000" >4.25</text>
<line x1="586.00" y1="601.00" x2="586.00" y2="606.00" stroke="#000" stroke-width="1.9" />
<text x="585.70" y="621.29" font-size="10.8" text-anchor="middle" fill="#000" >4.5</text>
<line x1="187.84" y1="601.00" x2="187.84" y2="604.00" stroke="#000" stroke-width="1.3" />
<line x1="229.06" y1="601.00" x2="229.06" y2="604.00" stroke="#000" stroke-width="1.3" />
<line x1="249.67" y1="601.00" x2="249.67" y2="604.00" stroke="#000" stroke-width="1.3" />
<line x1="270.29" y1="601.00" x2="270.29" y2="604.00" stroke="#000" stroke-width="1.3" />
<line x1="311.51" y1="601.00" x2="311.51" y2="604.00" stroke="#000" stroke-width="1.3" />
<line x1="332.12" y1="601.00" x2="332.12" y2="604.00" stroke="#000" stroke-width="1.3" />
<line x1="352.74" y1="601.00" x2="352.74" y2="604.00" stroke="#000" stroke-width="1.3" />
<line x1="393.96" y1="601.00" x2="393.96" y2="604.00" stroke="#000" stroke-width="1.3" />
<line x1="414.57" y1="601.00" x2="414.57" y2="604.00" stroke="#000" stroke-width="1.3" />
<line x1="435.19" y1="601.00" x2="435.19" y2="604.00" stroke="#000" stroke-width="1.3" />
<line x1="476.41" y1="601.00" x2="476.41" y2="604.00" stroke="#000" stroke-width="1.3" />
<line x1="497.02" y1="601.00" x2="497.02" y2="604.00" stroke="#000" stroke-width="1.3" />
<line x1="517.64" y1="601.00" x2="517.64" y2="604.00" stroke="#000" stroke-width="1.3" />
<line x1="566.50" y1="601.00" x2="566.50" y2="604.00" stroke="#000" stroke-width="1.3" />
<text x="345.50" y="640.79" font-size="14.7" text-anchor="middle" fill="#000" >Enrichment of high-impact variant hotspots</text>
<text x="60.30" y="440.50" font-size="13.7" text-anchor="middle" fill="#000" transform="rotate(-90 60.30 440.50)" >Enrichment of high-impact SV hotspots</text>
<rect x="291.3" y="469.5" width="294.7" height="118.5" fill="none" stroke="#cdcdcd" stroke-width="0.9" stroke-dasharray="8.7 8"/>
<text x="355.90" y="485.34" font-size="8.45" text-anchor="middle" fill="#000" ><tspan font-style="italic">p</tspan> value for high impact SV</text>
<text x="355.90" y="496.44" font-size="8.45" text-anchor="middle" fill="#000" >hotspot proportion differences,</text>
<text x="355.90" y="507.64" font-size="8.45" text-anchor="middle" fill="#000" >specific category vs. average</text>
<text x="355.90" y="552.34" font-size="8.45" text-anchor="middle" fill="#000" ><tspan font-style="italic">p</tspan> value for high impact variant</text>
<text x="355.90" y="563.54" font-size="8.45" text-anchor="middle" fill="#000" >hotspot proportion differences:</text>
<text x="355.90" y="574.64" font-size="8.45" text-anchor="middle" fill="#000" >specific category vs. average</text>
<circle cx="329.7" cy="527" r="8.5" fill="#dcdcdc"/>
<line x1="323.50" y1="533.20" x2="335.90" y2="520.80" stroke="#fff" stroke-width="1.0" />
<polygon points="323.8,513.0 330.0,513.0 329.4,516.6 327.3,524.2 326.5,524.2 324.4,516.6" fill="#000"/>
<polygon points="329.0,540.9 335.2,540.9 334.6,537.6 332.5,530.5 331.7,530.5 329.6,537.6" fill="#000"/>
<text x="439.60" y="486.21" font-size="9.2" text-anchor="middle" fill="#000" >color</text>
<text x="474.10" y="486.21" font-size="9.2" text-anchor="middle" fill="#000" ><tspan font-style="italic">p</tspan>-value</text>
<path d="M434.03,503.17 A6.6,6.6 0 0 0 444.57,495.23 Z" fill="#FF7C7C"/>
<text x="474.50" y="504.29" font-size="8.3" text-anchor="middle" fill="#000" >&lt;2.2e-16</text>
<path d="M434.03,521.57 A6.6,6.6 0 0 0 444.57,513.63 Z" fill="#FFD07C"/>
<text x="474.50" y="522.69" font-size="8.3" text-anchor="middle" fill="#000" >1e-5–0.001</text>
<path d="M434.03,539.97 A6.6,6.6 0 0 0 444.57,532.03 Z" fill="#C2F6C2"/>
<text x="474.50" y="541.09" font-size="8.3" text-anchor="middle" fill="#000" >0.001–0.01</text>
<path d="M434.03,558.37 A6.6,6.6 0 0 0 444.57,550.43 Z" fill="#D2E9F1"/>
<text x="474.50" y="559.49" font-size="8.3" text-anchor="middle" fill="#000" >0.01–0.05</text>
<path d="M434.03,576.77 A6.6,6.6 0 0 0 444.57,568.83 Z" fill="#B9B9B9"/>
<text x="474.50" y="577.89" font-size="8.3" text-anchor="middle" fill="#000" >&gt;0.05</text>
<text x="531.60" y="486.21" font-size="9.2" text-anchor="middle" fill="#000" >size</text>
<text x="565.80" y="481.81" font-size="9.2" text-anchor="middle" fill="#000" >gene</text>
<text x="565.80" y="491.71" font-size="9.2" text-anchor="middle" fill="#000" >number</text>
<circle cx="532.2" cy="505.8" r="2.7" fill="#dcdcdc"/>
<text x="566.40" y="508.49" font-size="8.3" text-anchor="middle" fill="#000" >10</text>
<circle cx="532.2" cy="521" r="6.25" fill="#dcdcdc"/>
<text x="566.40" y="523.99" font-size="8.3" text-anchor="middle" fill="#000" >100</text>
<circle cx="532.2" cy="542.2" r="9.1" fill="#dcdcdc"/>
<text x="566.40" y="545.19" font-size="8.3" text-anchor="middle" fill="#000" >1000</text>
<circle cx="532.2" cy="568.7" r="12.2" fill="#dcdcdc"/>
<text x="566.40" y="571.19" font-size="8.3" text-anchor="middle" fill="#000" >10000</text>
<text x="605.60" y="306.60" font-size="26.5" text-anchor="start" fill="#000" font-weight="bold" >E</text>
<text x="637.50" y="308.85" font-size="11.8" text-anchor="start" fill="#1a1a1a" font-weight="bold" >ABC transporter G</text>
<text x="742.20" y="326.94" font-size="10.4" text-anchor="end" fill="#000" ><tspan fill="#7B1010" font-weight="bold">Danxia</tspan> <tspan dx="3.6" font-size="10.5" font-style="italic" font-weight="bold">Pdan_g02699</tspan></text>
<text x="742.00" y="337.92" font-size="8.4" text-anchor="end" fill="#222" >(C3: 71,300,574–71,326,416)</text>
<text x="742.20" y="351.74" font-size="10.4" text-anchor="end" fill="#000" ><tspan fill="#4A2A1C" font-weight="bold">acidic soil</tspan> <tspan dx="3.6" font-size="10.5" font-style="italic" font-weight="normal">Pdry_g02356</tspan></text>
<text x="742.00" y="362.72" font-size="8.4" text-anchor="end" fill="#222" >(C3: 75,433,700–75,476,026)</text>
<text x="742.20" y="376.54" font-size="10.4" text-anchor="end" fill="#000" ><tspan fill="#F5A623" font-weight="bold">#</tspan> <tspan fill="#808080" font-weight="bold">karst</tspan> <tspan dx="3.6" font-size="10.5" font-style="italic" font-weight="normal">Pebu_g00627</tspan></text>
<text x="742.00" y="387.52" font-size="8.4" text-anchor="end" fill="#222" >(C3: 60,510,193–60,532,256)</text>
<text x="742.20" y="401.34" font-size="10.4" text-anchor="end" fill="#000" ><tspan fill="#4A2A1C" font-weight="bold">acidic soil</tspan> <tspan dx="3.6" font-size="10.5" font-style="italic" font-weight="normal">Pfim_g21232</tspan></text>
<text x="742.00" y="412.32" font-size="8.4" text-anchor="end" fill="#222" >(C3: 51,878,474–51,905,774)</text>
<text x="742.20" y="426.14" font-size="10.4" text-anchor="end" fill="#000" ><tspan fill="#808080" font-weight="bold">karst</tspan> <tspan dx="3.6" font-size="10.5" font-style="italic" font-weight="bold">Phed_g20242</tspan></text>
<text x="742.00" y="437.12" font-size="8.4" text-anchor="end" fill="#222" >(C3: 40,484,280–40,504,677)</text>
<text x="742.20" y="450.94" font-size="10.4" text-anchor="end" fill="#000" ><tspan fill="#F5A623" font-weight="bold">#</tspan> <tspan fill="#808080" font-weight="bold">karst</tspan> <tspan dx="3.6" font-size="10.5" font-style="italic" font-weight="normal">Phua_g20500</tspan></text>
<text x="742.00" y="461.92" font-size="8.4" text-anchor="end" fill="#222" >(C3: 24,857,598–24,879,192)</text>
<text x="742.20" y="475.74" font-size="10.4" text-anchor="end" fill="#000" ><tspan fill="#F5A623" font-weight="bold">#</tspan> <tspan fill="#808080" font-weight="bold">karst</tspan> <tspan dx="3.6" font-size="10.5" font-style="italic" font-weight="bold">Poph_g38439</tspan></text>
<text x="742.00" y="486.72" font-size="8.4" text-anchor="end" fill="#222" >(C3: 43,593,432–43,613,925)</text>
<text x="742.20" y="500.54" font-size="10.4" text-anchor="end" fill="#000" ><tspan fill="#4A2A1C" font-weight="bold">acidic soil</tspan> <tspan dx="3.6" font-size="10.5" font-style="italic" font-weight="normal">Ppin_g09334</tspan></text>
<text x="742.00" y="511.52" font-size="8.4" text-anchor="end" fill="#222" >(C3: 51,609,586–51,655,014)</text>
<text x="742.20" y="525.34" font-size="10.4" text-anchor="end" fill="#000" ><tspan fill="#808080" font-weight="bold">karst</tspan> <tspan dx="0.9" font-size="10.5" font-style="italic" font-weight="normal">Ptab_g00738</tspan></text>
<text x="742.00" y="536.32" font-size="8.4" text-anchor="end" fill="#222" >(C3: 53,405,527–53,428,137)</text>
<rect x="837.00" y="317.90" width="29.90" height="21.80" fill="#E8920A" />
<rect x="875.90" y="317.90" width="1.00" height="21.80" fill="#E8920A" />
<rect x="879.90" y="317.90" width="4.90" height="21.80" fill="#E8920A" />
<rect x="888.10" y="317.90" width="1.40" height="21.80" fill="#E8920A" />
<rect x="891.40" y="317.90" width="3.50" height="21.80" fill="#E8920A" />
<rect x="895.40" y="317.90" width="1.30" height="21.80" fill="#E8920A" />
<rect x="897.20" y="317.90" width="4.70" height="21.80" fill="#E8920A" />
<rect x="904.00" y="317.90" width="0.90" height="21.80" fill="#E8920A" />
<rect x="907.10" y="317.90" width="2.00" height="21.80" fill="#E8920A" />
<rect x="912.00" y="317.90" width="8.00" height="21.80" fill="#E8920A" />
<rect x="956.00" y="317.90" width="8.90" height="21.80" fill="#E8920A" />
<rect x="969.00" y="317.90" width="2.40" height="21.80" fill="#E8920A" />
<rect x="972.10" y="317.90" width="0.80" height="21.80" fill="#E8920A" />
<rect x="975.20" y="317.90" width="0.90" height="21.80" fill="#E8920A" />
<rect x="977.20" y="317.90" width="26.60" height="21.80" fill="#E8920A" />
<rect x="1055.00" y="317.90" width="4.70" height="21.80" fill="#E8920A" />
<rect x="1063.10" y="317.90" width="0.80" height="21.80" fill="#E8920A" />
<rect x="1073.10" y="317.90" width="3.80" height="21.80" fill="#E8920A" />
<rect x="1077.80" y="317.90" width="1.20" height="21.80" fill="#E8920A" />
<rect x="1079.50" y="317.90" width="1.70" height="21.80" fill="#E8920A" />
<rect x="1083.80" y="317.90" width="2.10" height="21.80" fill="#E8920A" />
<rect x="1091.00" y="317.90" width="1.80" height="21.80" fill="#E8920A" />
<rect x="1095.00" y="317.90" width="1.90" height="21.80" fill="#E8920A" />
<rect x="1099.90" y="317.90" width="1.00" height="21.80" fill="#E8920A" />
<rect x="1102.10" y="317.90" width="33.80" height="21.80" fill="#E8920A" />
<rect x="1138.10" y="317.90" width="24.90" height="21.80" fill="#E8920A" />
<rect x="1187.00" y="317.90" width="5.90" height="21.80" fill="#E8920A" />
<rect x="1203.00" y="317.90" width="2.90" height="21.80" fill="#E8920A" />
<rect x="753.00" y="342.10" width="2.90" height="22.40" fill="#5878AE" />
<rect x="775.90" y="342.10" width="59.90" height="22.40" fill="#5878AE" />
<rect x="837.00" y="342.10" width="25.80" height="22.40" fill="#5878AE" />
<rect x="864.20" y="342.10" width="2.70" height="22.40" fill="#5878AE" />
<rect x="875.90" y="342.10" width="1.80" height="22.40" fill="#5878AE" />
<rect x="883.10" y="342.10" width="1.70" height="22.40" fill="#5878AE" />
<rect x="888.10" y="342.10" width="1.40" height="22.40" fill="#5878AE" />
<rect x="891.40" y="342.10" width="3.20" height="22.40" fill="#5878AE" />
<rect x="895.30" y="342.10" width="1.10" height="22.40" fill="#5878AE" />
<rect x="897.00" y="342.10" width="2.70" height="22.40" fill="#5878AE" />
<rect x="905.10" y="342.10" width="1.70" height="22.40" fill="#5878AE" />
<rect x="908.20" y="342.10" width="0.90" height="22.40" fill="#5878AE" />
<rect x="912.00" y="342.10" width="8.00" height="22.40" fill="#5878AE" />
<rect x="956.00" y="342.10" width="3.00" height="22.40" fill="#5878AE" />
<rect x="964.90" y="342.10" width="6.50" height="22.40" fill="#5878AE" />
<rect x="972.90" y="342.10" width="5.00" height="22.40" fill="#5878AE" />
<rect x="1002.10" y="342.10" width="1.70" height="22.40" fill="#5878AE" />
<rect x="1055.00" y="342.10" width="0.80" height="22.40" fill="#5878AE" />
<rect x="1059.00" y="342.10" width="0.80" height="22.40" fill="#5878AE" />
<rect x="1063.10" y="342.10" width="1.70" height="22.40" fill="#5878AE" />
<rect x="1069.50" y="342.10" width="11.30" height="22.40" fill="#5878AE" />
<rect x="1082.50" y="342.10" width="0.80" height="22.40" fill="#5878AE" />
<rect x="1083.80" y="342.10" width="2.10" height="22.40" fill="#5878AE" />
<rect x="1091.90" y="342.10" width="0.90" height="22.40" fill="#5878AE" />
<rect x="1095.00" y="342.10" width="0.90" height="22.40" fill="#5878AE" />
<rect x="1096.90" y="342.10" width="3.70" height="22.40" fill="#5878AE" />
<rect x="1102.10" y="342.10" width="31.80" height="22.40" fill="#5878AE" />
<rect x="1135.00" y="342.10" width="0.90" height="22.40" fill="#5878AE" />
<rect x="1138.10" y="342.10" width="25.60" height="22.40" fill="#5878AE" />
<rect x="1164.30" y="342.10" width="2.00" height="22.40" fill="#5878AE" />
<rect x="1167.00" y="342.10" width="4.90" height="22.40" fill="#5878AE" />
<rect x="1181.00" y="342.10" width="11.90" height="22.40" fill="#5878AE" />
<rect x="1203.00" y="342.10" width="9.00" height="22.40" fill="#5878AE" />
<rect x="1212.60" y="342.10" width="1.00" height="22.40" fill="#5878AE" />
<rect x="1214.90" y="342.10" width="29.90" height="22.40" fill="#5878AE" />
<rect x="1246.00" y="342.10" width="1.00" height="22.40" fill="#5878AE" />
<rect x="1247.90" y="342.10" width="2.00" height="22.40" fill="#5878AE" />
<rect x="837.00" y="367.00" width="29.90" height="22.60" fill="#2E6FE0" />
<rect x="875.90" y="367.00" width="1.00" height="22.60" fill="#2E6FE0" />
<rect x="878.00" y="367.00" width="6.80" height="22.60" fill="#2E6FE0" />
<rect x="888.10" y="367.00" width="1.40" height="22.60" fill="#2E6FE0" />
<rect x="891.40" y="367.00" width="5.40" height="22.60" fill="#2E6FE0" />
<rect x="897.80" y="367.00" width="4.10" height="22.60" fill="#2E6FE0" />
<rect x="903.10" y="367.00" width="1.60" height="22.60" fill="#2E6FE0" />
<rect x="907.10" y="367.00" width="2.00" height="22.60" fill="#2E6FE0" />
<rect x="912.00" y="367.00" width="0.90" height="22.60" fill="#2E6FE0" />
<rect x="914.10" y="367.00" width="5.90" height="22.60" fill="#2E6FE0" />
<rect x="956.00" y="367.00" width="8.90" height="22.60" fill="#2E6FE0" />
<rect x="969.00" y="367.00" width="2.40" height="22.60" fill="#2E6FE0" />
<rect x="972.90" y="367.00" width="5.00" height="22.60" fill="#2E6FE0" />
<rect x="1002.10" y="367.00" width="1.70" height="22.60" fill="#2E6FE0" />
<rect x="1055.00" y="367.00" width="0.80" height="22.60" fill="#2E6FE0" />
<rect x="1059.00" y="367.00" width="0.80" height="22.60" fill="#2E6FE0" />
<rect x="1063.10" y="367.00" width="1.70" height="22.60" fill="#2E6FE0" />
<rect x="1069.50" y="367.00" width="11.30" height="22.60" fill="#2E6FE0" />
<rect x="1083.80" y="367.00" width="2.10" height="22.60" fill="#2E6FE0" />
<rect x="1091.00" y="367.00" width="0.90" height="22.60" fill="#2E6FE0" />
<rect x="1097.10" y="367.00" width="1.60" height="22.60" fill="#2E6FE0" />
<rect x="1099.90" y="367.00" width="1.80" height="22.60" fill="#2E6FE0" />
<rect x="1103.70" y="367.00" width="32.20" height="22.60" fill="#2E6FE0" />
<rect x="1138.10" y="367.00" width="24.90" height="22.60" fill="#2E6FE0" />
<rect x="1187.00" y="367.00" width="5.90" height="22.60" fill="#2E6FE0" />
<rect x="1203.00" y="367.00" width="2.90" height="22.60" fill="#2E6FE0" />
<rect x="837.00" y="391.90" width="25.80" height="21.90" fill="#7560A8" />
<rect x="864.20" y="391.90" width="2.70" height="21.90" fill="#7560A8" />
<rect x="875.90" y="391.90" width="1.80" height="21.90" fill="#7560A8" />
<rect x="883.10" y="391.90" width="5.50" height="21.90" fill="#7560A8" />
<rect x="909.10" y="391.90" width="3.80" height="21.90" fill="#7560A8" />
<rect x="914.10" y="391.90" width="5.90" height="21.90" fill="#7560A8" />
<rect x="956.00" y="391.90" width="8.90" height="21.90" fill="#7560A8" />
<rect x="969.00" y="391.90" width="2.40" height="21.90" fill="#7560A8" />
<rect x="972.90" y="391.90" width="5.00" height="21.90" fill="#7560A8" />
<rect x="1002.10" y="391.90" width="52.90" height="21.90" fill="#7560A8" />
<rect x="1063.90" y="391.90" width="0.90" height="21.90" fill="#7560A8" />
<rect x="1069.50" y="391.90" width="11.30" height="21.90" fill="#7560A8" />
<rect x="1081.80" y="391.90" width="1.10" height="21.90" fill="#7560A8" />
<rect x="1083.50" y="391.90" width="2.40" height="21.90" fill="#7560A8" />
<rect x="1091.90" y="391.90" width="0.90" height="21.90" fill="#7560A8" />
<rect x="1095.00" y="391.90" width="0.90" height="21.90" fill="#7560A8" />
<rect x="1096.90" y="391.90" width="3.70" height="21.90" fill="#7560A8" />
<rect x="1102.10" y="391.90" width="33.80" height="21.90" fill="#7560A8" />
<rect x="1138.10" y="391.90" width="24.90" height="21.90" fill="#7560A8" />
<rect x="1189.20" y="391.90" width="3.70" height="21.90" fill="#7560A8" />
<rect x="1203.00" y="391.90" width="2.90" height="21.90" fill="#7560A8" />
<rect x="837.00" y="417.00" width="33.90" height="21.80" fill="#0C94E0" />
<rect x="901.10" y="417.00" width="2.60" height="21.80" fill="#0C94E0" />
<rect x="908.20" y="417.00" width="0.90" height="21.80" fill="#0C94E0" />
<rect x="912.00" y="417.00" width="8.00" height="21.80" fill="#0C94E0" />
<rect x="956.00" y="417.00" width="8.90" height="21.80" fill="#0C94E0" />
<rect x="969.00" y="417.00" width="2.40" height="21.80" fill="#0C94E0" />
<rect x="972.90" y="417.00" width="5.00" height="21.80" fill="#0C94E0" />
<rect x="1002.10" y="417.00" width="1.70" height="21.80" fill="#0C94E0" />
<rect x="1055.00" y="417.00" width="0.80" height="21.80" fill="#0C94E0" />
<rect x="1059.00" y="417.00" width="4.60" height="21.80" fill="#0C94E0" />
<rect x="1073.10" y="417.00" width="3.80" height="21.80" fill="#0C94E0" />
<rect x="1078.10" y="417.00" width="2.70" height="21.80" fill="#0C94E0" />
<rect x="1081.80" y="417.00" width="1.40" height="21.80" fill="#0C94E0" />
<rect x="1083.80" y="417.00" width="2.10" height="21.80" fill="#0C94E0" />
<rect x="1091.00" y="417.00" width="1.80" height="21.80" fill="#0C94E0" />
<rect x="1095.00" y="417.00" width="0.90" height="21.80" fill="#0C94E0" />
<rect x="1096.90" y="417.00" width="3.70" height="21.80" fill="#0C94E0" />
<rect x="1102.10" y="417.00" width="33.80" height="21.80" fill="#0C94E0" />
<rect x="1138.10" y="417.00" width="24.90" height="21.80" fill="#0C94E0" />
<rect x="1189.20" y="417.00" width="3.70" height="21.80" fill="#0C94E0" />
<rect x="1203.00" y="417.00" width="2.90" height="21.80" fill="#0C94E0" />
<rect x="837.00" y="442.00" width="25.80" height="21.80" fill="#8C7B75" />
<rect x="864.20" y="442.00" width="2.70" height="21.80" fill="#8C7B75" />
<rect x="874.00" y="442.00" width="1.90" height="21.80" fill="#8C7B75" />
<rect x="883.10" y="442.00" width="1.70" height="21.80" fill="#8C7B75" />
<rect x="888.10" y="442.00" width="1.40" height="21.80" fill="#8C7B75" />
<rect x="891.40" y="442.00" width="3.60" height="21.80" fill="#8C7B75" />
<rect x="895.60" y="442.00" width="1.20" height="21.80" fill="#8C7B75" />
<rect x="897.80" y="442.00" width="7.00" height="21.80" fill="#8C7B75" />
<rect x="914.10" y="442.00" width="5.90" height="21.80" fill="#8C7B75" />
<rect x="956.00" y="442.00" width="8.90" height="21.80" fill="#8C7B75" />
<rect x="969.00" y="442.00" width="2.40" height="21.80" fill="#8C7B75" />
<rect x="972.90" y="442.00" width="5.00" height="21.80" fill="#8C7B75" />
<rect x="1002.10" y="442.00" width="1.70" height="21.80" fill="#8C7B75" />
<rect x="1055.00" y="442.00" width="0.80" height="21.80" fill="#8C7B75" />
<rect x="1059.00" y="442.00" width="0.80" height="21.80" fill="#8C7B75" />
<rect x="1063.10" y="442.00" width="1.70" height="21.80" fill="#8C7B75" />
<rect x="1070.00" y="442.00" width="10.80" height="21.80" fill="#8C7B75" />
<rect x="1081.80" y="442.00" width="2.00" height="21.80" fill="#8C7B75" />
<rect x="1095.00" y="442.00" width="0.90" height="21.80" fill="#8C7B75" />
<rect x="1096.90" y="442.00" width="3.70" height="21.80" fill="#8C7B75" />
<rect x="1102.10" y="442.00" width="32.70" height="21.80" fill="#8C7B75" />
<rect x="1135.90" y="442.00" width="27.80" height="21.80" fill="#8C7B75" />
<rect x="1187.00" y="442.00" width="3.00" height="21.80" fill="#8C7B75" />
<rect x="1190.90" y="442.00" width="2.00" height="21.80" fill="#8C7B75" />
<rect x="1203.00" y="442.00" width="2.90" height="21.80" fill="#8C7B75" />
<rect x="837.00" y="467.10" width="29.90" height="21.80" fill="#06B8BE" />
<rect x="870.90" y="467.10" width="2.90" height="21.80" fill="#06B8BE" />
<rect x="899.30" y="467.10" width="4.40" height="21.80" fill="#06B8BE" />
<rect x="908.20" y="467.10" width="0.90" height="21.80" fill="#06B8BE" />
<rect x="912.00" y="467.10" width="8.00" height="21.80" fill="#06B8BE" />
<rect x="956.00" y="467.10" width="9.00" height="21.80" fill="#06B8BE" />
<rect x="969.00" y="467.10" width="2.80" height="21.80" fill="#06B8BE" />
<rect x="973.00" y="467.10" width="5.00" height="21.80" fill="#06B8BE" />
<rect x="1002.10" y="467.10" width="1.70" height="21.80" fill="#06B8BE" />
<rect x="1055.00" y="467.10" width="0.80" height="21.80" fill="#06B8BE" />
<rect x="1059.00" y="467.10" width="0.80" height="21.80" fill="#06B8BE" />
<rect x="1063.10" y="467.10" width="6.80" height="21.80" fill="#06B8BE" />
<rect x="1078.10" y="467.10" width="2.70" height="21.80" fill="#06B8BE" />
<rect x="1081.80" y="467.10" width="1.40" height="21.80" fill="#06B8BE" />
<rect x="1083.80" y="467.10" width="2.10" height="21.80" fill="#06B8BE" />
<rect x="1091.00" y="467.10" width="3.80" height="21.80" fill="#06B8BE" />
<rect x="1097.90" y="467.10" width="2.70" height="21.80" fill="#06B8BE" />
<rect x="1102.10" y="467.10" width="33.80" height="21.80" fill="#06B8BE" />
<rect x="1138.10" y="467.10" width="24.90" height="21.80" fill="#06B8BE" />
<rect x="1188.00" y="467.10" width="4.90" height="21.80" fill="#06B8BE" />
<rect x="1203.00" y="467.10" width="2.90" height="21.80" fill="#06B8BE" />
<rect x="754.30" y="491.20" width="21.60" height="22.60" fill="#D43F70" />
<rect x="835.00" y="491.20" width="31.90" height="22.60" fill="#D43F70" />
<rect x="876.00" y="491.20" width="1.80" height="22.60" fill="#D43F70" />
<rect x="883.00" y="491.20" width="1.90" height="22.60" fill="#D43F70" />
<rect x="888.10" y="491.20" width="3.70" height="22.60" fill="#D43F70" />
<rect x="897.90" y="491.20" width="4.80" height="22.60" fill="#D43F70" />
<rect x="912.00" y="491.20" width="53.00" height="22.60" fill="#D43F70" />
<rect x="969.00" y="491.20" width="2.80" height="22.60" fill="#D43F70" />
<rect x="973.00" y="491.20" width="5.00" height="22.60" fill="#D43F70" />
<rect x="1002.10" y="491.20" width="1.70" height="22.60" fill="#D43F70" />
<rect x="1063.10" y="491.20" width="1.70" height="22.60" fill="#D43F70" />
<rect x="1069.50" y="491.20" width="9.40" height="22.60" fill="#D43F70" />
<rect x="1080.90" y="491.20" width="1.10" height="22.60" fill="#D43F70" />
<rect x="1084.00" y="491.20" width="1.00" height="22.60" fill="#D43F70" />
<rect x="1092.00" y="491.20" width="1.00" height="22.60" fill="#D43F70" />
<rect x="1095.00" y="491.20" width="1.00" height="22.60" fill="#D43F70" />
<rect x="1097.20" y="491.20" width="3.40" height="22.60" fill="#D43F70" />
<rect x="1102.20" y="491.20" width="33.50" height="22.60" fill="#D43F70" />
<rect x="1137.90" y="491.20" width="32.80" height="22.60" fill="#D43F70" />
<rect x="1172.30" y="491.20" width="8.60" height="22.60" fill="#D43F70" />
<rect x="1185.10" y="491.20" width="22.80" height="22.60" fill="#D43F70" />
<rect x="1209.00" y="491.20" width="3.90" height="22.60" fill="#D43F70" />
<rect x="1213.70" y="491.20" width="1.10" height="22.60" fill="#D43F70" />
<rect x="1216.00" y="491.20" width="3.40" height="22.60" fill="#D43F70" />
<rect x="1228.00" y="491.20" width="1.00" height="22.60" fill="#D43F70" />
<rect x="1244.60" y="491.20" width="1.20" height="22.60" fill="#D43F70" />
<rect x="1247.20" y="491.20" width="2.70" height="22.60" fill="#D43F70" />
<rect x="1055.20" y="491.20" width="0.80" height="22.60" fill="#D43F70" opacity="0.6"/>
<rect x="1059.10" y="491.20" width="0.80" height="22.60" fill="#D43F70" opacity="0.6"/>
<rect x="909.00" y="491.20" width="0.70" height="22.60" fill="#D43F70" opacity="0.6"/>
<rect x="837.00" y="516.10" width="29.90" height="22.60" fill="#70CB40" />
<rect x="876.00" y="516.10" width="0.70" height="22.60" fill="#70CB40" />
<rect x="877.60" y="516.10" width="1.40" height="22.60" fill="#70CB40" />
<rect x="879.80" y="516.10" width="5.10" height="22.60" fill="#70CB40" />
<rect x="888.10" y="516.10" width="1.50" height="22.60" fill="#70CB40" />
<rect x="891.40" y="516.10" width="3.80" height="22.60" fill="#70CB40" />
<rect x="895.80" y="516.10" width="1.00" height="22.60" fill="#70CB40" />
<rect x="897.40" y="516.10" width="4.40" height="22.60" fill="#70CB40" />
<rect x="903.10" y="516.10" width="1.70" height="22.60" fill="#70CB40" />
<rect x="907.10" y="516.10" width="2.00" height="22.60" fill="#70CB40" />
<rect x="912.00" y="516.10" width="7.90" height="22.60" fill="#70CB40" />
<rect x="956.00" y="516.10" width="9.00" height="22.60" fill="#70CB40" />
<rect x="969.00" y="516.10" width="2.80" height="22.60" fill="#70CB40" />
<rect x="973.00" y="516.10" width="5.00" height="22.60" fill="#70CB40" />
<rect x="1002.10" y="516.10" width="1.70" height="22.60" fill="#70CB40" />
<rect x="1055.20" y="516.10" width="0.80" height="22.60" fill="#70CB40" />
<rect x="1059.10" y="516.10" width="0.80" height="22.60" fill="#70CB40" />
<rect x="1063.10" y="516.10" width="1.70" height="22.60" fill="#70CB40" />
<rect x="1069.50" y="516.10" width="11.40" height="22.60" fill="#70CB40" />
<rect x="1082.00" y="516.10" width="1.30" height="22.60" fill="#70CB40" />
<rect x="1084.00" y="516.10" width="6.80" height="22.60" fill="#70CB40" />
<rect x="1097.60" y="516.10" width="3.00" height="22.60" fill="#70CB40" />
<rect x="1102.10" y="516.10" width="33.80" height="22.60" fill="#70CB40" />
<rect x="1138.10" y="516.10" width="24.90" height="22.60" fill="#70CB40" />
<rect x="1187.10" y="516.10" width="5.80" height="22.60" fill="#70CB40" />
<rect x="1203.00" y="516.10" width="2.90" height="22.60" fill="#70CB40" />
<line x1="753.10" y1="541.50" x2="1250.40" y2="541.50" stroke="#222" stroke-width="1.1" />
<line x1="757.80" y1="545.30" x2="776.00" y2="545.30" stroke="#aaa" stroke-width="1" />
<line x1="776.00" y1="553.50" x2="835.10" y2="553.50" stroke="#e4e4e4" stroke-width="1" />
<line x1="835.60" y1="541.50" x2="835.60" y2="618.70" stroke="#222" stroke-width="1.1" />
<line x1="839.20" y1="607.20" x2="1163.40" y2="607.20" stroke="#e4e4e4" stroke-width="1" />
<line x1="756.20" y1="632.30" x2="1207.30" y2="632.30" stroke="#222" stroke-width="1.3" />
<line x1="753.00" y1="637.20" x2="1228.30" y2="637.20" stroke="#e4e4e4" stroke-width="1" />
<line x1="866.90" y1="543.00" x2="871.00" y2="543.00" stroke="#aaa" stroke-width="1.2" />
<line x1="888.40" y1="541.50" x2="888.40" y2="545.70" stroke="#222" stroke-width="1" />
<line x1="871.00" y1="547.30" x2="901.70" y2="547.30" stroke="#e4e4e4" stroke-width="1" />
<line x1="899.30" y1="541.50" x2="899.30" y2="547.30" stroke="#222" stroke-width="1" />
<line x1="901.70" y1="541.50" x2="901.70" y2="549.50" stroke="#aaa" stroke-width="1" />
<line x1="904.20" y1="543.20" x2="913.60" y2="543.20" stroke="#222" stroke-width="1.8" />
<polyline points="977.3,541.5 977.3,546.5 1001.8,546.5" fill="none" stroke="#222" stroke-width="1.1"/>
<line x1="957.00" y1="543.00" x2="961.00" y2="543.00" stroke="#aaa" stroke-width="1" />
<line x1="1055.60" y1="541.50" x2="1055.60" y2="551.90" stroke="#222" stroke-width="1.1" />
<line x1="1055.60" y1="543.00" x2="1064.00" y2="543.00" stroke="#222" stroke-width="1.6" />
<line x1="1064.00" y1="543.20" x2="1070.00" y2="543.20" stroke="#555" stroke-width="1.0" />
<line x1="1070.00" y1="543.60" x2="1078.00" y2="543.60" stroke="#ccc" stroke-width="0.8" />
<line x1="1084.00" y1="543.00" x2="1100.00" y2="543.00" stroke="#bbb" stroke-width="0.8" />
<line x1="1163.40" y1="541.50" x2="1163.40" y2="606.90" stroke="#444" stroke-width="1" />
<line x1="1167.60" y1="541.50" x2="1167.60" y2="557.80" stroke="#222" stroke-width="1.1" />
<line x1="1167.60" y1="558.30" x2="1250.00" y2="558.30" stroke="#e4e4e4" stroke-width="1" />
<line x1="1170.00" y1="549.80" x2="1245.00" y2="549.80" stroke="#e4e4e4" stroke-width="1" />
<line x1="1172.00" y1="542.60" x2="1186.00" y2="542.60" stroke="#aaa" stroke-width="1.2" />
<line x1="1207.10" y1="541.50" x2="1207.10" y2="549.80" stroke="#222" stroke-width="2.2" />
<line x1="1207.10" y1="549.80" x2="1207.10" y2="632.70" stroke="#222" stroke-width="1.0" />
<line x1="1219.40" y1="541.50" x2="1219.40" y2="618.50" stroke="#777" stroke-width="0.9" />
<line x1="1228.30" y1="541.50" x2="1228.30" y2="637.50" stroke="#222" stroke-width="1.1" />
<line x1="1219.40" y1="543.50" x2="1228.30" y2="543.50" stroke="#222" stroke-width="1.2" />
<line x1="1244.80" y1="541.50" x2="1244.80" y2="548.70" stroke="#aaa" stroke-width="1" />
<line x1="1247.30" y1="541.50" x2="1247.30" y2="548.70" stroke="#aaa" stroke-width="1" />
<line x1="1250.00" y1="541.50" x2="1250.00" y2="558.00" stroke="#888" stroke-width="1" />
</svg>
</body></html>
